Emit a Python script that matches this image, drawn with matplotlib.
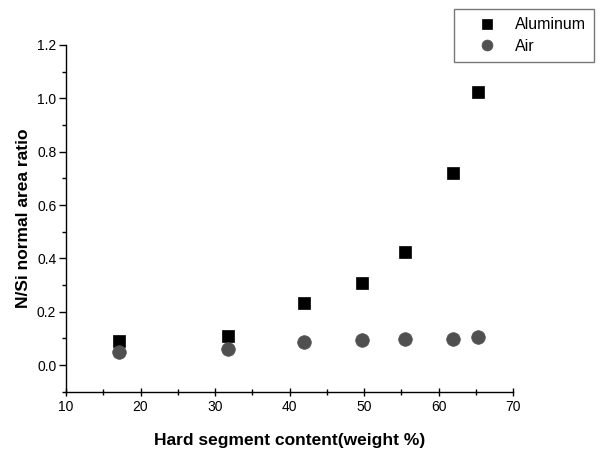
# N/Si normal area ratio vs hard segment content

import matplotlib
matplotlib.use("Agg")
import matplotlib.pyplot as plt
from matplotlib.ticker import MultipleLocator

plt.rcParams['font.family'] = ['Liberation Sans', 'DejaVu Sans']

# Data
hard_segment = [17.1, 31.7, 41.9, 49.7, 55.5, 61.9, 65.2]
aluminum = [0.091, 0.109, 0.231, 0.306, 0.425, 0.721, 1.022]
air = [0.048, 0.060, 0.085, 0.094, 0.096, 0.098, 0.106]

fig = plt.figure(figsize=(6, 4.49), dpi=100)
ax = fig.add_axes([0.11, 0.1276, 0.7455, 0.7722])

ax.plot(hard_segment, aluminum, linestyle='none', marker='s', markersize=9,
        color='black', markeredgecolor='black', markeredgewidth=0.5, label='Aluminum')
ax.plot(hard_segment, air, linestyle='none', marker='o', markersize=9.8,
        color='#505050', markeredgecolor='#505050', markeredgewidth=0.5, label='Air')

ax.set_xlim(10, 70)
ax.set_ylim(-0.1, 1.2)
ax.xaxis.set_major_locator(MultipleLocator(10))
ax.xaxis.set_minor_locator(MultipleLocator(5))
ax.yaxis.set_major_locator(MultipleLocator(0.2))
ax.yaxis.set_minor_locator(MultipleLocator(0.1))
ax.yaxis.set_major_formatter(plt.FormatStrFormatter('%.1f'))

ax.spines['top'].set_visible(False)
ax.spines['right'].set_visible(False)
for s in ('left', 'bottom'):
    ax.spines[s].set_linewidth(1.0)

ax.tick_params(axis='x', which='major', direction='inout', length=6, width=1, labelsize=10, pad=3)
ax.tick_params(axis='x', which='minor', direction='inout', length=4, width=1)
ax.tick_params(axis='y', which='major', direction='out', length=5, width=1, labelsize=10, pad=2)
ax.tick_params(axis='y', which='minor', direction='out', length=3, width=1)

ax.set_xlabel('Hard segment content(weight %)', fontsize=12.5, fontweight='bold', labelpad=14)
ax.set_ylabel('N/Si normal area ratio', fontsize=12.5, fontweight='bold', labelpad=4)

leg = fig.legend(loc='upper left', bbox_to_anchor=(0.757, 0.979), frameon=True,
                 fancybox=False, fontsize=11.5, handletextpad=0.2, borderpad=0.5,
                 borderaxespad=0, labelspacing=0.4, markerscale=0.8, handlelength=3.1)
leg.get_frame().set_edgecolor('#555555')
leg.get_frame().set_linewidth(1.0)

fig.savefig('out.png', dpi=100)
